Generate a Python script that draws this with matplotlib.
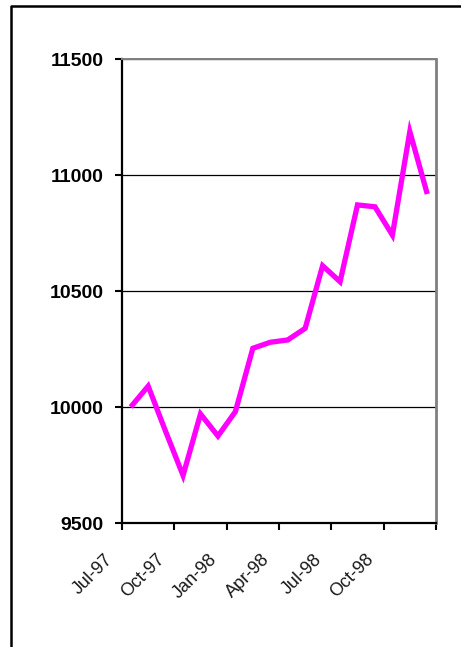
import matplotlib
matplotlib.use("Agg")
import matplotlib.pyplot as plt
from matplotlib.lines import Line2D
from matplotlib.transforms import ScaledTranslation

# Monthly index values, Jul-97 .. Dec-98
months = ["Jul-97", "Aug-97", "Sep-97", "Oct-97", "Nov-97", "Dec-97",
          "Jan-98", "Feb-98", "Mar-98", "Apr-98", "May-98", "Jun-98",
          "Jul-98", "Aug-98", "Sep-98", "Oct-98", "Nov-98", "Dec-98"]
values = [10000, 10090, 9895, 9705, 9970, 9875,
          9980, 10253, 10279, 10289, 10339, 10609,
          10540, 10871, 10863, 10741, 11187, 10918]
y_ticks = [9500, 10000, 10500, 11000, 11500]
label_step = 3

W, H, DPI = 461, 647, 100
fig = plt.figure(figsize=(W / DPI, H / DPI), dpi=DPI)
fig.patch.set_facecolor("white")

ax = fig.add_axes([122 / W, (H - 523) / H, 314 / W, 464 / H])
x = list(range(len(months)))
ax.plot(x, values, color="#FF00FF", lw=3.8, solid_capstyle="butt",
        solid_joinstyle="miter", zorder=3)

ax.set_xlim(-0.5, len(months) - 0.5)
ax.set_ylim(y_ticks[0], y_ticks[-1])

# horizontal gridlines
ax.set_yticks(y_ticks)
ax.yaxis.grid(True, color="black", lw=0.9)
ax.set_axisbelow(True)
ax.set_yticklabels([str(v) for v in y_ticks], fontsize=14, fontweight="bold",
                   family="Liberation Sans")
ax.tick_params(axis="y", direction="out", length=5, width=1.5, pad=8,
               colors="black")

# category boundaries as x ticks
bounds = [i - 0.5 for i in range(0, len(months) + 1, label_step)]
ax.set_xticks(bounds)
ax.set_xticklabels([])
ax.tick_params(axis="x", direction="out", length=5, width=1.5)

for side in ("left", "bottom"):
    ax.spines[side].set_color("black")
    ax.spines[side].set_linewidth(1.6)
ax.spines["top"].set_color("#808080")
ax.spines["top"].set_linewidth(1.4)
ax.spines["right"].set_color("#808080")
ax.spines["right"].set_linewidth(2.0)

# rotated month labels every third category
off = ScaledTranslation(-15 / DPI, -28 / DPI, fig.dpi_scale_trans)
for i in range(0, len(months), label_step):
    ax.text(i, 0, months[i], transform=ax.get_xaxis_transform() + off,
            rotation=45, ha="right", va="top", fontsize=13,
            family="Liberation Sans", color="#1a1a1a")

# outer frame (left and top edges)
fig.add_artist(Line2D([11 / W, 11 / W, 1.01], [-0.01, 1 - 6 / H, 1 - 6 / H],
                      transform=fig.transFigure, color="black", lw=1.8))

fig.savefig("out.png", dpi=DPI)
